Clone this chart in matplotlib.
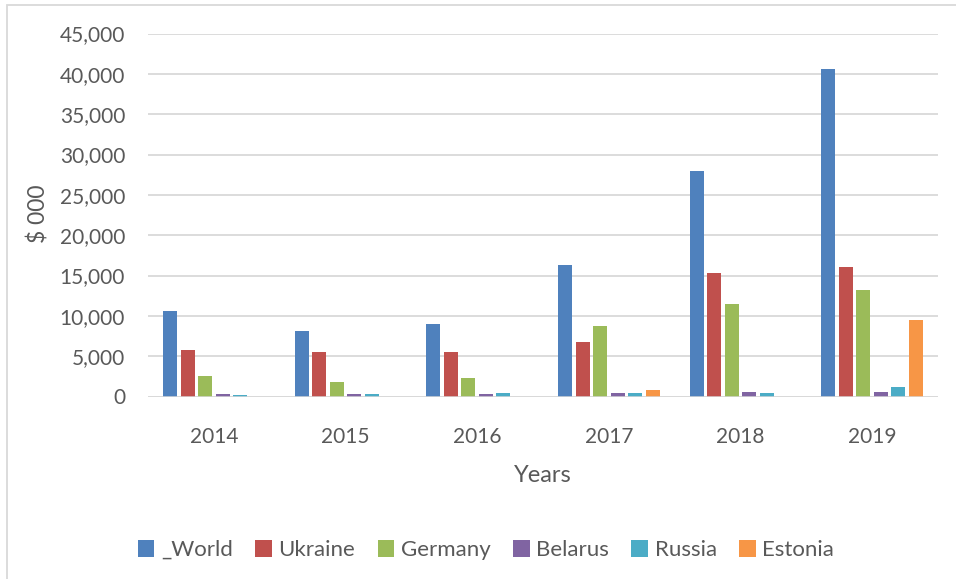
import matplotlib
matplotlib.use("Agg")
import matplotlib.pyplot as plt
from matplotlib.patches import Rectangle
import numpy as np

years = ["2014", "2015", "2016", "2017", "2018", "2019"]
series_names = ["_World", "Ukraine", "Germany", "Belarus", "Russia", "Estonia"]
world = [10600, 8120, 8990, 16300, 27960, 40610]
ukraine = [5770, 5520, 5520, 6760, 15310, 16060]
germany = [2540, 1800, 2290, 8740, 11470, 13210]
belarus = [310, 310, 310, 430, 560, 560]
russia = [190, 310, 430, 430, 430, 1180]
estonia = [0, 0, 0, 810, 0, 9490]
colors = ["#4F81BD", "#C0504D", "#9BBB59", "#8064A2", "#4BACC6", "#F79646"]
yticks = [0, 5000, 10000, 15000, 20000, 25000, 30000, 35000, 40000, 45000]

W, H = 956, 579
fig = plt.figure(figsize=(W / 100, H / 100), dpi=100)
plt.rcParams['font.family'] = ['Lato', 'DejaVu Sans']
txt = "#595959"
grid = "#D9D9D9"

# chart border
fig.patches.append(Rectangle((7 / W, -0.05), 1.1, 1 - 5 / H + 0.05, transform=fig.transFigure,
                             fill=False, edgecolor=grid, linewidth=1.3))

left, right, top, bottom = 148, 938, 33.5, 396.5
ax = fig.add_axes([left / W, 1 - bottom / H, (right - left) / W, (bottom - top) / H])

data = [world, ukraine, germany, belarus, russia, estonia]
x = np.arange(len(years))
pitch = 17.5 / 131.7
bw = 14 / 131.7
handles = []
for i, (vals, c) in enumerate(zip(data, colors)):
    b = ax.bar(x + (i - 2.5) * pitch, vals, width=bw, color=c, zorder=3)
    handles.append(b)

ax.set_xlim(-0.5, len(years) - 0.5)
ax.set_ylim(0, 45000)
ax.set_yticks(yticks)
ax.set_yticklabels([f"{v:,}" for v in yticks])
ax.set_xticks(x)
ax.set_xticklabels(years)
ax.tick_params(axis='both', length=0, labelsize=15, colors=txt)
ax.tick_params(axis='y', pad=16.5)
ax.tick_params(axis='x', pad=22)
for s in ax.spines.values():
    s.set_visible(False)
ax.grid(axis='y', color=grid, linewidth=1.3, zorder=0)
ax.axhline(0, color=grid, linewidth=1.8, zorder=4)

fig.text(543 / W, 1 - 482 / H, "Years", fontsize=17, color=txt, ha='center', va='baseline')
fig.text(38 / W, 1 - 214 / H, "$ 000", rotation=90, fontsize=16.5, color=txt,
         ha='center', va='center')

leg = fig.legend(handles, series_names, loc='center', bbox_to_anchor=(486 / W, 1 - 550 / H),
                 ncol=6, frameon=False, fontsize=16, handlelength=0.75, handleheight=0.8,
                 handletextpad=0.3, columnspacing=1.0, labelcolor=txt)

fig.savefig("out.png", dpi=100)
